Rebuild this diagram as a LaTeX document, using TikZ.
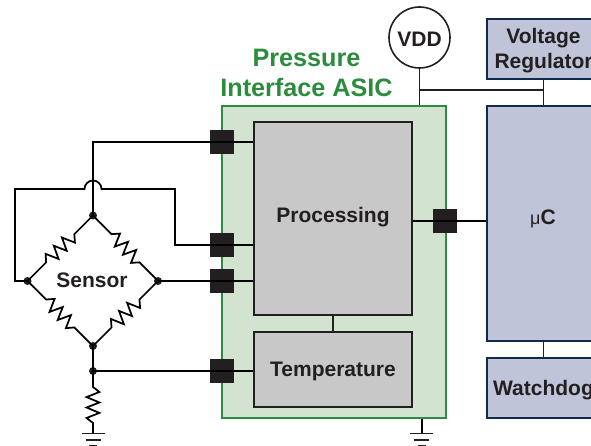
\documentclass[tikz,border=0pt]{standalone}
\usepackage{fontspec}
\setmainfont{Liberation Sans}
\usetikzlibrary{calc}
\definecolor{ink}{HTML}{231F20}
\definecolor{asicfill}{HTML}{D2E4CF}
\definecolor{asicedge}{HTML}{2E8B45}
\definecolor{titlegreen}{HTML}{2A8C3C}
\definecolor{greyfill}{HTML}{C8C8C8}
\definecolor{bluefill}{HTML}{C0C4D8}
\definecolor{blueedge}{HTML}{10294F}
\tikzset{
  wire/.style={draw=black,line width=1.75pt,line join=miter},
  thinwire/.style={draw=ink,line width=1.6pt},
  asicbox/.style={draw=asicedge,fill=asicfill,line width=1.6pt,minimum width=224pt,minimum height=312pt,inner sep=0pt},
  block/.style={draw=ink,fill=greyfill,line width=1.6pt,minimum width=158pt,inner sep=0pt},
  mcubox/.style={draw=blueedge,fill=bluefill,line width=1.6pt,minimum width=113pt,inner sep=0pt},
  pad/.style={fill=ink,minimum size=24pt,inner sep=0pt},
  junction/.style={circle,fill=ink,minimum size=8pt,inner sep=0pt},
  lbl/.style={font=\fontsize{21}{25}\selectfont\bfseries,text=ink,inner sep=0pt,align=center},
  title/.style={font=\fontsize{25.2}{30}\selectfont\bfseries,text=titlegreen,inner sep=0pt,align=center},
  res/.style={to path={
    -- ($(\tikztostart)!.14!(\tikztotarget)!6.4pt!90:(\tikztotarget)$)
    -- ($(\tikztostart)!.28!(\tikztotarget)!6.4pt!-90:(\tikztotarget)$)
    -- ($(\tikztostart)!.43!(\tikztotarget)!6.4pt!90:(\tikztotarget)$)
    -- ($(\tikztostart)!.57!(\tikztotarget)!6.4pt!-90:(\tikztotarget)$)
    -- ($(\tikztostart)!.72!(\tikztotarget)!6.4pt!90:(\tikztotarget)$)
    -- ($(\tikztostart)!.86!(\tikztotarget)!6.4pt!-90:(\tikztotarget)$)
    -- (\tikztotarget)}}
}
\newcommand{\gnd}[1]{%
  \draw[line width=1.6pt,draw=ink] ($(#1)+(-11.5pt,0)$) -- ($(#1)+(11.5pt,0)$);
  \draw[line width=1.6pt,draw=ink] ($(#1)+(-7.5pt,-6.5pt)$) -- ($(#1)+(7.5pt,-6.5pt)$);
  \draw[line width=1.6pt,draw=ink] ($(#1)+(-4pt,-12pt)$) -- ($(#1)+(4pt,-12pt)$);
}
\begin{document}
\begin{tikzpicture}[x=1pt,y=-1pt]
\useasboundingbox (0,0) rectangle (591,446);
\clip (0,0) rectangle (591,446);
% ASIC
\node[asicbox] (asic) at (334,262) {};
\node[block,minimum height=193pt] (proc) at (333,218.5) {};
\node[lbl] (proclbl) at (333,217.5) {Processing};
\node[block,minimum height=75pt] (temp) at (333,369.5) {};
\node[lbl] (templbl) at (333,371) {Temperature};
\node[title] (ttl1) at (306.5,58) {Pressure};
\node[title] (ttl2) at (306.5,87.5) {Interface ASIC};
% right column
\node[mcubox,minimum height=60pt] (vreg) at (543.5,49) {};
\node[lbl] (vreg1) at (543.5,38.5) {Voltage};
\node[lbl] (vreg2) at (543.5,63.5) {Regulator};
\node[mcubox,minimum height=235pt] (mcu) at (543.5,223.5) {};
\node[lbl] (mculbl) at (543,219) {{\fontsize{18}{22}\selectfont\mdseries μ}C};
\node[mcubox,minimum height=60pt] (wd) at (543.5,388) {};
\node[lbl] (wdlbl) at (543.5,390) {Watchdog};
\node[circle,draw=ink,fill=white,line width=1.6pt,minimum size=61pt,inner sep=0pt] (vdd) at (419.5,37.5) {};
\node[lbl] (vddlbl) at (419.5,39) {VDD};
% pads
\node[pad] (p1) at (222,142) {};
\node[pad] (p2) at (222,245) {};
\node[pad] (p3) at (222,281) {};
\node[pad] (p4) at (222,371) {};
\node[pad] (p5) at (445,221) {};
% sensor bridge
\node[lbl] (sensor) at (92,280.5) {Sensor};
\node[junction] (top) at (93,215.5) {};
\node[junction] (lft) at (27.5,281) {};
\node[junction] (rgt) at (158,281) {};
\node[junction] (bot) at (93,346) {};
\node[junction] (jn) at (93,371) {};
\coordinate (tl1) at ($(top)!.285!(lft)$);
\coordinate (tl2) at ($(top)!.715!(lft)$);
\coordinate (tr1) at ($(top)!.285!(rgt)$);
\coordinate (tr2) at ($(top)!.715!(rgt)$);
\coordinate (bl1) at ($(lft)!.285!(bot)$);
\coordinate (bl2) at ($(lft)!.715!(bot)$);
\coordinate (br1) at ($(rgt)!.285!(bot)$);
\coordinate (br2) at ($(rgt)!.715!(bot)$);
\draw[wire] (top.center) -- (tl1) to[res] (tl2) -- (lft.center);
\draw[wire] (top.center) -- (tr1) to[res] (tr2) -- (rgt.center);
\draw[wire] (lft.center) -- (bl1) to[res] (bl2) -- (bot.center);
\draw[wire] (rgt.center) -- (br1) to[res] (br2) -- (bot.center);
% wires
\coordinate (c1) at (93,142);
\coordinate (cl) at (15,189);
\coordinate (ca) at (84.5,189);
\coordinate (cb) at (101.5,189);
\coordinate (cr) at (175,189);
\draw[wire] (top.center) -- (c1) -- (proc.west |- c1);
\draw[wire] (lft.center) -- (lft -| cl) -- (cl) -- (ca) arc[start angle=180,end angle=0,radius=8.5pt] -- (cr) -- (cr |- p2) -- (proc.west |- p2);
\draw[wire] (rgt.center) -- (proc.west |- rgt);
\draw[wire] (bot.center) -- (jn.center) -- (temp.west |- jn);
\coordinate (r1) at (93,387);
\coordinate (r2) at (93,423);
\coordinate (g1) at (93,433.3);
\draw[wire] (jn.center) -- (r1) to[res] (r2) -- (g1);
\gnd{g1}
\draw[wire] (proc.east |- p5) -- (mcu.west |- p5);
\draw[thinwire] (proc) -- (temp);
\coordinate (g2) at (421.7,433.3);
\draw[wire] (asic.south -| g2) -- (g2);
\gnd{g2}
\coordinate (vj) at (419.5,90);
\draw[thinwire] (vdd.south) -- (vdd.south |- asic.north);
\draw[thinwire] (vj) -- (vreg.south |- vj);
\draw[thinwire] (vreg.south) -- (mcu.north);
\draw[thinwire] (mcu.south) -- (wd.north);
\end{tikzpicture}
\end{document}
